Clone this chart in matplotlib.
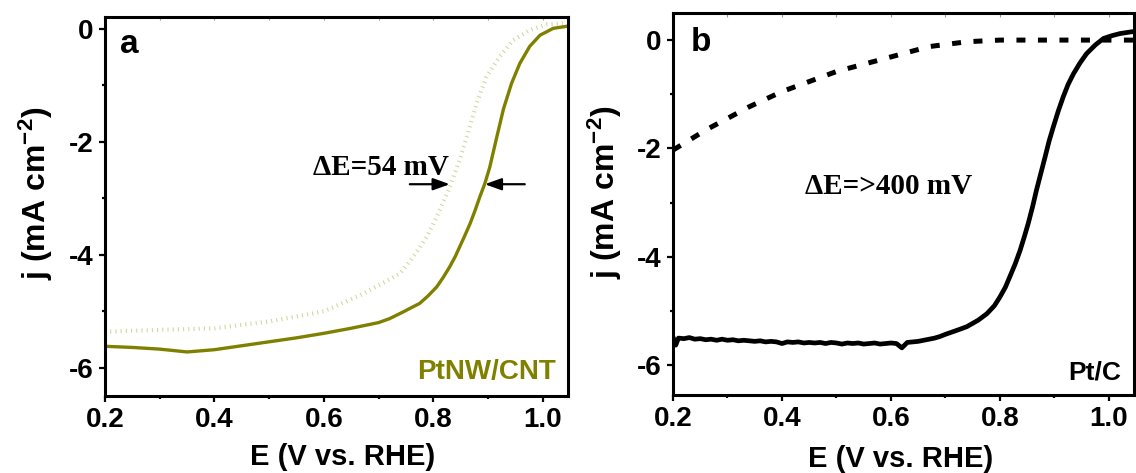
import matplotlib
matplotlib.use("Agg")
import matplotlib.pyplot as plt
from matplotlib.ticker import MultipleLocator

# ---- PtNW/CNT (panel a) ----
E_a_solid = [0.20, 0.25, 0.30, 0.35, 0.40, 0.45, 0.50, 0.55, 0.60, 0.65, 0.70,
             0.72, 0.739, 0.755, 0.775, 0.79, 0.806, 0.818, 0.830, 0.84, 0.848,
             0.857, 0.867, 0.876, 0.885, 0.894, 0.903, 0.915, 0.928, 0.943,
             0.958, 0.976, 0.995, 1.019, 1.046]
j_a_solid = [-5.62, -5.64, -5.67, -5.72, -5.68, -5.61, -5.54, -5.47, -5.39, -5.30, -5.20,
             -5.13, -5.04, -4.96, -4.86, -4.73, -4.57, -4.40, -4.21, -4.03, -3.86,
             -3.67, -3.45, -3.22, -2.97, -2.74, -2.45, -1.95, -1.42, -0.96,
             -0.61, -0.31, -0.11, 0.01, 0.05]

E_a_dot = [0.20, 0.30, 0.40, 0.50, 0.60, 0.67, 0.739, 0.763, 0.788, 0.806, 0.830,
           0.848, 0.861, 0.879, 0.897, 0.921, 0.946, 0.976, 1.007, 1.046]
j_a_dot = [-5.36, -5.33, -5.30, -5.18, -5.00, -4.70, -4.33, -4.04, -3.68, -3.33, -2.80,
           -2.32, -1.91, -1.32, -0.85, -0.49, -0.20, -0.02, 0.08, 0.10]

# ---- Pt/C (panel b) ----
E_b_solid = [0.200, 0.205, 0.21, 0.22, 0.23, 0.24, 0.25, 0.26, 0.27, 0.28, 0.29,
             0.30, 0.31, 0.32, 0.33, 0.34, 0.35, 0.36, 0.37, 0.38, 0.39,
             0.40, 0.41, 0.42, 0.43, 0.44, 0.45, 0.46, 0.47, 0.48, 0.49,
             0.50, 0.51, 0.52, 0.53, 0.54, 0.55, 0.56, 0.57, 0.58, 0.59,
             0.60, 0.61, 0.62, 0.63, 0.64, 0.65, 0.66, 0.67, 0.68, 0.69,
             0.70, 0.72, 0.739, 0.76, 0.776, 0.79, 0.800, 0.81, 0.818, 0.828,
             0.837, 0.845, 0.852, 0.860, 0.867, 0.875, 0.883, 0.890, 0.898, 0.907,
             0.916, 0.925, 0.935, 0.947, 0.959, 0.975, 0.990, 1.005, 1.020, 1.046]
j_b_solid = [-5.48, -5.63, -5.50, -5.51, -5.49, -5.52, -5.51, -5.53, -5.52, -5.54, -5.52,
             -5.54, -5.53, -5.55, -5.54, -5.55, -5.56, -5.55, -5.57, -5.56, -5.57,
             -5.60, -5.57, -5.58, -5.57, -5.59, -5.58, -5.59, -5.58, -5.60, -5.58,
             -5.59, -5.61, -5.59, -5.60, -5.59, -5.61, -5.60, -5.59, -5.61, -5.60,
             -5.59, -5.60, -5.68, -5.58, -5.57, -5.56, -5.54, -5.52, -5.50, -5.47,
             -5.43, -5.36, -5.29, -5.17, -5.05, -4.90, -4.74, -4.56, -4.37, -4.13,
             -3.88, -3.62, -3.38, -3.07, -2.77, -2.46, -2.15, -1.87, -1.60, -1.31,
             -1.05, -0.82, -0.62, -0.42, -0.25, -0.09, 0.03, 0.08, 0.12, 0.16]

E_b_dot = [0.20, 0.26, 0.34, 0.40, 0.50, 0.60, 0.67, 0.74, 0.80, 0.90, 1.046]
j_b_dot = [-2.03, -1.66, -1.23, -0.95, -0.58, -0.31, -0.12, -0.03, 0.00, 0.00, 0.00]

x_ticks = [0.2, 0.4, 0.6, 0.8, 1.0]
x_ticklabels = ["0.2", "0.4", "0.6", "0.8", "1.0"]
y_ticks = [0, -2, -4, -6]
y_ticklabels = ["0", "-2", "-4", "-6"]

OLIVE = "#808000"
PALE = "#d4d49c"
SANS = "Liberation Sans"
SERIF = "Liberation Serif"

plt.rcParams["mathtext.fontset"] = "custom"
plt.rcParams["mathtext.bf"] = "Liberation Sans:bold"
plt.rcParams["mathtext.rm"] = "Liberation Sans:bold"
plt.rcParams["mathtext.default"] = "bf"

fig = plt.figure(figsize=(11.36, 4.73), dpi=100)
W, H = 1136, 473


def box(l, r, t, b):
    return [l / W, (H - b) / H, (r - l) / W, (b - t) / H]


ax_a = fig.add_axes(box(105, 568, 16.5, 396))
ax_b = fig.add_axes(box(673, 1134, 13, 395))


def style(ax, ylim, xlab_xy, ylab_xy):
    ax.set_xlim(0.2, 1.046)
    ax.set_ylim(*ylim)
    ax.set_xticks(x_ticks)
    ax.set_xticklabels(x_ticklabels, fontfamily=SANS, fontweight="bold")
    ax.set_yticks(y_ticks)
    ax.set_yticklabels(y_ticklabels, fontfamily=SANS, fontweight="bold")
    ax.xaxis.set_minor_locator(MultipleLocator(0.1))
    ax.yaxis.set_minor_locator(MultipleLocator(1))
    for s in ax.spines.values():
        s.set_linewidth(2.2)
    ax.tick_params(which="major", direction="out", length=4.3, width=1.6, pad=3.5,
                   labelsize=20)
    ax.tick_params(which="minor", direction="out", length=2.2, width=1.6)
    ax.tick_params(axis="y", which="major", pad=4)
    # faint inward ticks along the top spine
    top = ax.secondary_xaxis("top")
    top.set_xticks([0.3, 0.4, 0.5, 0.6, 0.7, 0.8, 0.9, 1.0])
    top.tick_params(direction="in", length=3, width=0.8, color="#9a9a9a",
                    labeltop=False)
    top.spines["top"].set_visible(False)
    ax.set_xlabel("E (V vs. RHE)", fontfamily=SANS, fontweight="bold", fontsize=21)
    ax.set_ylabel("j (mA cm$^{-2}$)", fontfamily=SANS, fontweight="bold",
                  fontsize=23)
    ax.xaxis.set_label_coords(*xlab_xy)
    ax.yaxis.set_label_coords(*ylab_xy)


# panel a
ax_a.plot(E_a_dot, j_a_dot, color=PALE, lw=3.0, linestyle=(0, (0.25, 1.0)))
ax_a.plot(E_a_solid, j_a_solid, color=OLIVE, lw=2.4, solid_capstyle="round",
          solid_joinstyle="round")
style(ax_a, (-6.5, 0.22), (0.513, -0.124), (-0.108, 0.535))
ax_a.text(0.052, 0.925, "a", transform=ax_a.transAxes, ha="center", va="center",
          fontfamily=SANS, fontweight="bold", fontsize=24)
ax_a.text(0.974, 0.063, "PtNW/CNT", transform=ax_a.transAxes, ha="right",
          va="center", fontfamily=SANS, fontweight="bold", fontsize=20, color=OLIVE)
ax_a.text(0.704, -2.45, "\u0394E=54 mV", ha="center", va="center",
          fontfamily=SERIF, fontweight="bold", fontsize=21)
arrow_kw = dict(arrowstyle="-|>,head_length=0.5,head_width=0.18", lw=1.6,
                color="k", mutation_scale=20, shrinkA=0, shrinkB=0)
ax_a.annotate("", xy=(0.830, -2.75), xytext=(0.757, -2.75), arrowprops=arrow_kw)
ax_a.annotate("", xy=(0.894, -2.75), xytext=(0.967, -2.75), arrowprops=arrow_kw)

# panel b
ax_b.plot(E_b_dot, j_b_dot, color="k", lw=3.6, linestyle=(0, (1.8, 2.5)))
ax_b.plot(E_b_solid, j_b_solid, color="k", lw=3.4, solid_joinstyle="round")
style(ax_b, (-6.55, 0.5), (0.493, -0.131), (-0.106, 0.53))
ax_b.text(0.061, 0.923, "b", transform=ax_b.transAxes, ha="center", va="center",
          fontfamily=SANS, fontweight="bold", fontsize=24)
ax_b.text(0.971, 0.06, "Pt/C", transform=ax_b.transAxes, ha="right",
          va="center", fontfamily=SANS, fontweight="bold", fontsize=19)
ax_b.text(0.596, -2.71, "\u0394E=>400 mV", ha="center", va="center",
          fontfamily=SERIF, fontweight="bold", fontsize=21)

fig.savefig("out.png", dpi=100)
